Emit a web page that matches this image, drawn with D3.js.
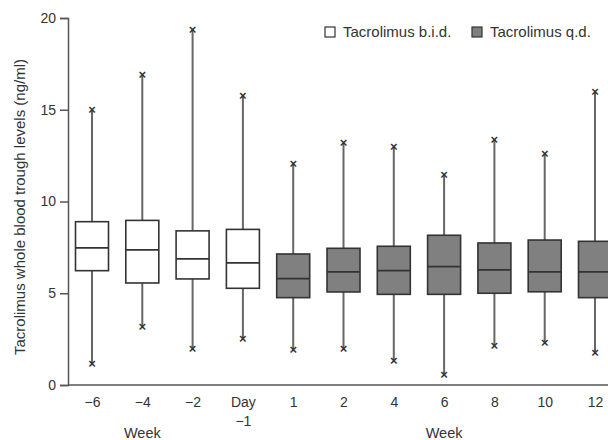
<!DOCTYPE html>
<html>
<head>
<meta charset="UTF-8">
<title>Tacrolimus trough levels</title>
<script src="https://cdn.jsdelivr.net/npm/d3@7"></script>
<style>
  body { margin: 0; background: #fff; }
  text { font-family: "Liberation Sans", Arial, sans-serif; fill: #333; }
</style>
</head>
<body>
<svg id="chart"></svg>
<script>
var categories = ["\u22126", "\u22124", "\u22122", "Day \u22121", "1", "2", "4", "6", "8", "10", "12"];
var groups = ["bid", "bid", "bid", "bid", "qd", "qd", "qd", "qd", "qd", "qd", "qd"];
var minVals = [1.15, 3.2, 1.98, 2.54, 1.94, 1.98, 1.34, 0.58, 2.16, 2.3, 1.78];
var q1Vals = [6.23, 5.56, 5.78, 5.27, 4.76, 5.07, 4.94, 4.94, 5.0, 5.08, 4.76];
var medVals = [7.47, 7.36, 6.87, 6.66, 5.8, 6.16, 6.23, 6.45, 6.27, 6.16, 6.16];
var q3Vals = [8.9, 8.97, 8.4, 8.48, 7.14, 7.45, 7.56, 8.16, 7.74, 7.9, 7.83];
var maxVals = [15.0, 16.9, 19.4, 15.8, 12.1, 13.2, 12.99, 11.5, 13.4, 12.6, 15.98];
var yTicks = [0, 5, 10, 15, 20];

var w = 608, h = 440;
var svg = d3.select("#chart").attr("width", w).attr("height", h);

var x = d3.scalePoint().domain(categories).range([92, 595]);
var y = d3.scaleLinear().domain([0, 20]).range([385, 18]);
var boxW = 33;
var font = "'Liberation Sans', Arial, sans-serif";

var data = categories.map(function (c, i) {
    return {cat: c, g: groups[i], min: minVals[i], q1: q1Vals[i], med: medVals[i], q3: q3Vals[i], max: maxVals[i]};
});

// y axis
var yAxis = svg.append("g")
    .attr("transform", "translate(68,0)")
    .call(d3.axisLeft(y).tickValues(yTicks).tickSize(8).tickPadding(4));
yAxis.select(".domain").attr("stroke", "#555").attr("stroke-width", 1.5);
yAxis.selectAll(".tick line").attr("stroke", "#555").attr("stroke-width", 1.5);
yAxis.selectAll(".tick text").attr("font-size", 14).attr("fill", "#333").style("font-family", font);

// x axis
var xAxis = svg.append("g")
    .attr("transform", "translate(0,385)")
    .call(d3.axisBottom(x).tickSize(0).tickPadding(12));
xAxis.select(".domain").attr("d", "M68,0H610").attr("stroke", "#555").attr("stroke-width", 1.5);
xAxis.selectAll(".tick text")
    .attr("font-size", 14).attr("fill", "#333")
    .style("font-family", font)
    .each(function (d) {
        var t = d3.select(this);
        if (d.indexOf("Day") === 0) {
            t.text(null);
            t.append("tspan").attr("x", 0).attr("dy", "0.71em").text("Day");
            t.append("tspan").attr("x", 0).attr("dy", "1.35em").text("\u22121");
            t.attr("dy", null);
        }
    });

// week labels
svg.append("text").attr("x", x("\u22124")).attr("y", 438).attr("text-anchor", "middle")
    .attr("font-size", 14.5).text("Week");
svg.append("text").attr("x", x("6")).attr("y", 438).attr("text-anchor", "middle")
    .attr("font-size", 14.5).text("Week");

// y title
svg.append("text")
    .attr("transform", "translate(25,207) rotate(-90)")
    .attr("text-anchor", "middle")
    .attr("font-size", 15)
    .text("Tacrolimus whole blood trough levels (ng/ml)");

// boxes
var box = svg.selectAll("g.box").data(data).enter().append("g").attr("class", "box")
    .attr("transform", function (d) { return "translate(" + x(d.cat) + ",0)"; });

box.append("line")
    .attr("x1", 0).attr("x2", 0)
    .attr("y1", function (d) { return y(d.max); })
    .attr("y2", function (d) { return y(d.min); })
    .attr("stroke", "#666").attr("stroke-width", 2);

box.append("rect")
    .attr("x", -boxW / 2).attr("width", boxW)
    .attr("y", function (d) { return y(d.q3); })
    .attr("height", function (d) { return y(d.q1) - y(d.q3); })
    .attr("fill", function (d) { return d.g === "bid" ? "#fff" : "#808080"; })
    .attr("stroke", "#333").attr("stroke-width", 1.6);

box.append("line")
    .attr("x1", -boxW / 2).attr("x2", boxW / 2)
    .attr("y1", function (d) { return y(d.med); })
    .attr("y2", function (d) { return y(d.med); })
    .attr("stroke", "#333").attr("stroke-width", 1.8);

box.selectAll("text.mark")
    .data(function (d) { return [d.min, d.max]; })
    .enter().append("text").attr("class", "mark")
    .attr("x", 0).attr("y", function (v) { return y(v); })
    .attr("dy", "0.35em")
    .attr("text-anchor", "middle")
    .attr("font-size", 13).attr("font-weight", "bold")
    .text("\u00d7");

// legend
var legend = [{label: "Tacrolimus b.i.d.", fill: "#fff", x: 325}, {label: "Tacrolimus q.d.", fill: "#808080", x: 472}];
var lg = svg.selectAll("g.legend").data(legend).enter().append("g").attr("class", "legend")
    .attr("transform", function (d) { return "translate(" + d.x + ",27)"; });
lg.append("rect").attr("width", 10).attr("height", 10)
    .attr("fill", function (d) { return d.fill; })
    .attr("stroke", "#333").attr("stroke-width", 1.2);
lg.append("text").attr("x", 18).attr("y", 10).attr("font-size", 15)
    .text(function (d) { return d.label; });
</script>
</body>
</html>
